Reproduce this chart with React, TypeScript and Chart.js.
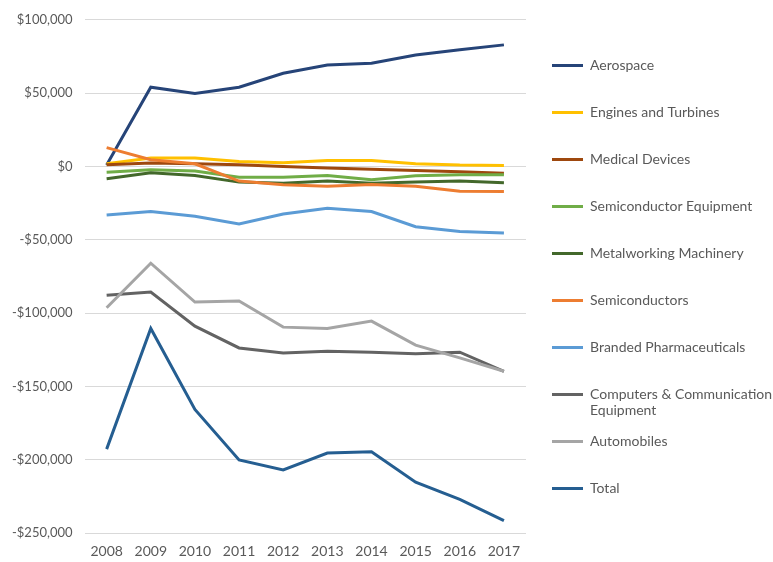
import React, { useEffect, useRef } from 'react';
import { Chart, registerables } from 'chart.js';

Chart.register(...registerables);

const years = ['2008', '2009', '2010', '2011', '2012', '2013', '2014', '2015', '2016', '2017'];

const seriesNames: (string | string[])[] = [
  'Aerospace',
  'Engines and Turbines',
  'Medical Devices',
  'Semiconductor Equipment',
  'Metalworking Machinery',
  'Semiconductors',
  'Branded Pharmaceuticals',
  ['Computers & Communication', 'Equipment'],
  'Automobiles',
  'Total',
];

const aerospace = [1000, 54000, 49700, 54000, 63500, 69200, 70400, 76000, 79500, 82900];
const enginesTurbines = [1800, 5700, 5700, 3400, 2500, 4100, 4100, 1800, 900, 700];
const medicalDevices = [1100, 2300, 1800, 1100, 0, -1100, -2000, -2700, -3600, -4600];
const semiconductorEquipment = [-3900, -2300, -3200, -7300, -7300, -6200, -9100, -6400, -5700, -5700];
const metalworkingMachinery = [-8400, -4300, -6200, -10700, -11400, -10000, -11400, -10700, -10000, -11200];
const semiconductors = [12800, 4600, 1800, -10000, -12500, -13500, -12300, -13500, -16900, -17100];
const brandedPharmaceuticals = [-33100, -30800, -34000, -39300, -32400, -28600, -30800, -41100, -44300, -45400];
const computersCommunication = [-87900, -85600, -108900, -123800, -127200, -126000, -126700, -127800, -126700, -139700];
const automobiles = [-96400, -66000, -92500, -91800, -109600, -110500, -105500, -121900, -130600, -139700];
const total = [-192800, -110500, -165700, -200200, -207000, -195500, -194600, -215300, -227000, -241500];

const seriesValues = [
  aerospace,
  enginesTurbines,
  medicalDevices,
  semiconductorEquipment,
  metalworkingMachinery,
  semiconductors,
  brandedPharmaceuticals,
  computersCommunication,
  automobiles,
  total,
];

const seriesColors = [
  '#264478',
  '#FFC000',
  '#9E480E',
  '#70AD47',
  '#43682B',
  '#ED7D31',
  '#5B9BD5',
  '#636363',
  '#A5A5A5',
  '#255E91',
];

const yMin = -250000;
const yMax = 100000;
const yStep = 50000;

const FONT = 'Lato';
const TEXT_COLOR = '#595959';

function formatDollar(v: number): string {
  const abs = Math.abs(v).toLocaleString('en-US');
  return (v < 0 ? '-$' : '$') + abs;
}

export default function App() {
  const canvasRef = useRef<HTMLCanvasElement | null>(null);

  useEffect(() => {
    const canvas = canvasRef.current;
    if (!canvas) return;
    const n = seriesValues.length;
    const chart = new Chart(canvas, {
      type: 'line',
      data: {
        labels: years,
        datasets: seriesValues.map((vals, i) => {
          const name = seriesNames[i];
          return {
            label: Array.isArray(name) ? name.join(' ') : name,
            data: vals,
            borderColor: seriesColors[i],
            backgroundColor: seriesColors[i],
            borderWidth: 3,
            pointRadius: 0,
            tension: 0,
            fill: false,
            order: n - i,
          };
        }),
      },
      options: {
        responsive: false,
        animation: false,
        layout: { padding: { top: 10, bottom: 0, left: 0, right: 0 } },
        plugins: {
          tooltip: { enabled: false },
          legend: {
            position: 'right',
            align: 'center',
            maxWidth: 236,
            labels: {
              boxWidth: 31,
              boxHeight: 3,
              padding: 15,
              color: TEXT_COLOR,
              font: { family: FONT, size: 14, lineHeight: '16px' },
              generateLabels: (ch: any) =>
                ch.data.datasets.map((ds: any, i: number) => {
                  const name = seriesNames[i];
                  const lines = Array.isArray(name) ? name : [name, ''];
                  return {
                    text: lines,
                    fillStyle: ds.borderColor,
                    strokeStyle: ds.borderColor,
                    lineWidth: 0,
                    hidden: false,
                    datasetIndex: i,
                    fontColor: TEXT_COLOR,
                  };
                }),
            },
          },
        },
        scales: {
          x: {
            offset: true,
            grid: { display: false, drawTicks: false },
            border: { display: false },
            ticks: { color: TEXT_COLOR, font: { family: FONT, size: 14 }, padding: 10 },
            afterFit: (s: any) => {
              s.height = 29;
            },
          },
          y: {
            position: 'left',
            min: yMin,
            max: yMax,
            grid: { color: '#D9D9D9', lineWidth: 1, drawTicks: false },
            border: { display: false },
            ticks: {
              stepSize: yStep,
              color: TEXT_COLOR,
              font: { family: FONT, size: 13 },
              padding: 12,
              callback: (v: any) => formatDollar(Number(v)),
            },
          },
          yGap: {
            position: 'right',
            display: true,
            grid: { display: false, drawTicks: false },
            border: { display: false },
            ticks: { display: false },
            afterFit: (s: any) => {
              s.width = 11;
            },
          },
        },
      } as any,
    });
    return () => chart.destroy();
  }, []);

  return (
    <div style={{ position: 'absolute', left: 0, top: 0, width: 773, height: 562, background: '#fff' }}>
      <canvas ref={canvasRef} width={773} height={562} style={{ display: 'block' }} />
    </div>
  );
}
